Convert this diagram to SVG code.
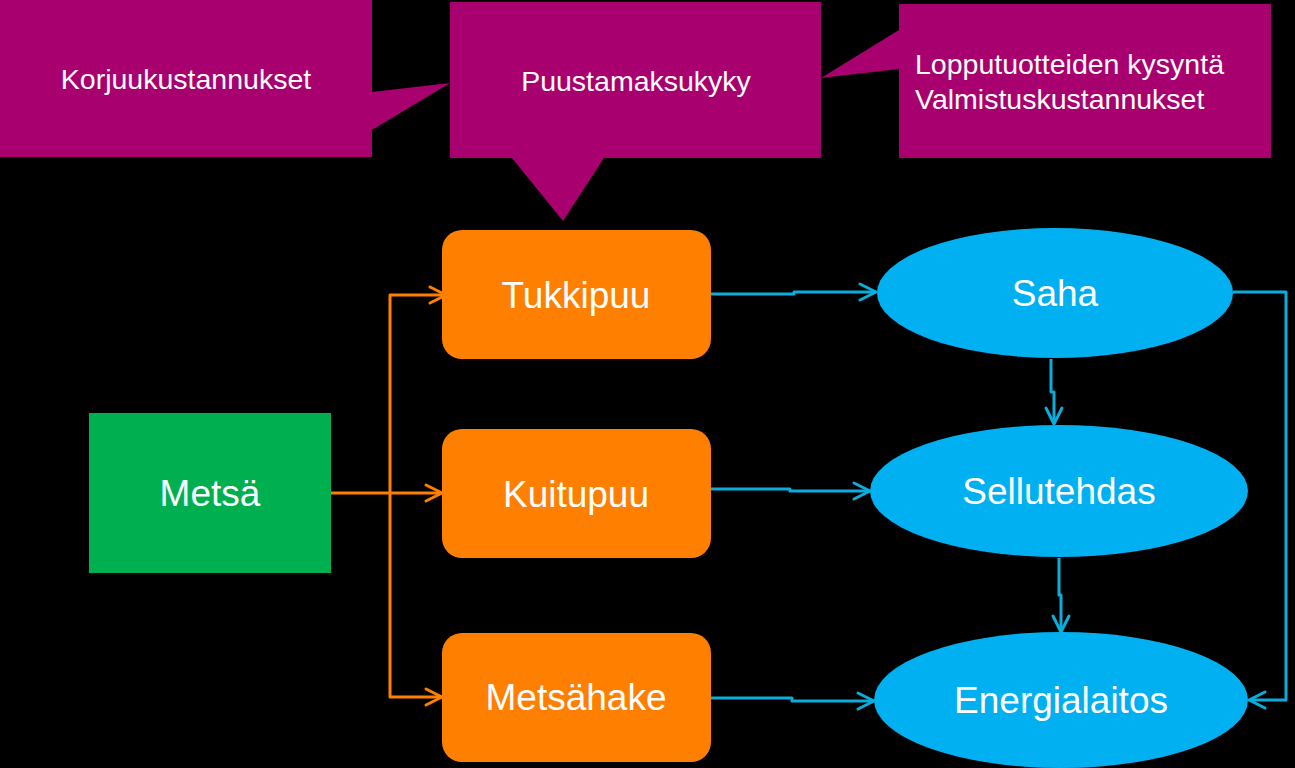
<svg xmlns="http://www.w3.org/2000/svg" width="1295" height="768" viewBox="0 0 1295 768">
<style>
.callout{fill:#A9006F}
.ct{font-family:"Liberation Sans",Arial,sans-serif;font-size:28.5px;fill:#FFFFFF}
.nt{font-family:"Liberation Sans",Arial,sans-serif;font-size:37px;fill:#FFFFFF;text-anchor:middle}
.box{fill:#FF8000}
.ell{fill:#00B0F0}
.oc{fill:none;stroke:#FF8000;stroke-width:3;stroke-linejoin:round}
.bc{fill:none;stroke:#0AADDC;stroke-width:3;stroke-linejoin:round}
</style>
<defs>
<marker id="ao" markerUnits="userSpaceOnUse" markerWidth="24" markerHeight="24" viewBox="0 0 24 24" refX="19" refY="12" orient="auto">
<path d="M3,4 L19,12 L3,20" fill="none" stroke="#FF8000" stroke-width="3" stroke-linecap="round" stroke-linejoin="round"/>
</marker>
<marker id="ab" markerUnits="userSpaceOnUse" markerWidth="24" markerHeight="24" viewBox="0 0 24 24" refX="19" refY="12" orient="auto">
<path d="M3,4 L19,12 L3,20" fill="none" stroke="#0AADDC" stroke-width="3" stroke-linecap="round" stroke-linejoin="round"/>
</marker>
</defs>
<rect x="0" y="0" width="1295" height="768" fill="#000000"/>

<g id="callout-korjuu">
<path class="callout" d="M0,0 H372 V92 L450,83 L372,130 V157 H0 Z"/>
<text class="ct" x="186" y="89" text-anchor="middle">Korjuukustannukset</text>
</g>
<g id="callout-puustamaksukyky">
<path class="callout" d="M450,2 H821 V158 H604 L563,221 L512,158 H450 Z"/>
<text class="ct" x="636" y="91" text-anchor="middle">Puustamaksukyky</text>
</g>
<g id="callout-lopputuotteet">
<path class="callout" d="M899,4 H1271 V158 H899 V69 L821,78 L899,30 Z"/>
<text class="ct" x="915" y="74">Lopputuotteiden kysyntä</text>
<text class="ct" x="915" y="109">Valmistuskustannukset</text>
</g>

<g id="metsa">
<rect x="89" y="413" width="242" height="160" fill="#00B050"/>
<text class="nt" x="210" y="506">Metsä</text>
</g>
<g id="tukkipuu">
<rect class="box" x="442" y="230" width="269" height="129" rx="20"/>
<text class="nt" x="576" y="308">Tukkipuu</text>
</g>
<g id="kuitupuu">
<rect class="box" x="442" y="429" width="269" height="129" rx="20"/>
<text class="nt" x="576" y="507">Kuitupuu</text>
</g>
<g id="metsahake">
<rect class="box" x="442" y="633" width="269" height="129" rx="20"/>
<text class="nt" x="576" y="710">Metsähake</text>
</g>
<g id="saha">
<ellipse class="ell" cx="1055" cy="293" rx="178" ry="65"/>
<text class="nt" x="1055" y="306">Saha</text>
</g>
<g id="sellutehdas">
<ellipse class="ell" cx="1059" cy="491" rx="189" ry="66"/>
<text class="nt" x="1059" y="504">Sellutehdas</text>
</g>
<g id="energialaitos">
<ellipse class="ell" cx="1061" cy="700" rx="187" ry="68"/>
<text class="nt" x="1061" y="713">Energialaitos</text>
</g>

<g id="connectors">
<path class="oc" d="M331,493 H442" marker-end="url(#ao)"/>
<path class="oc" d="M390,493 V295 H446" marker-end="url(#ao)"/>
<path class="oc" d="M390,493 V697 H442" marker-end="url(#ao)"/>
<path class="bc" d="M711,294 H794 V292 H876" marker-end="url(#ab)"/>
<path class="bc" d="M711,489 H790 V491 H870" marker-end="url(#ab)"/>
<path class="bc" d="M711,698 H792 V701 H874" marker-end="url(#ab)"/>
<path class="bc" d="M1051,359 V392 H1054 V424" marker-end="url(#ab)"/>
<path class="bc" d="M1059,558 V595 H1061 V632" marker-end="url(#ab)"/>
<path class="bc" d="M1233,292 H1286 V700 H1249" marker-end="url(#ab)"/>
</g>
</svg>
